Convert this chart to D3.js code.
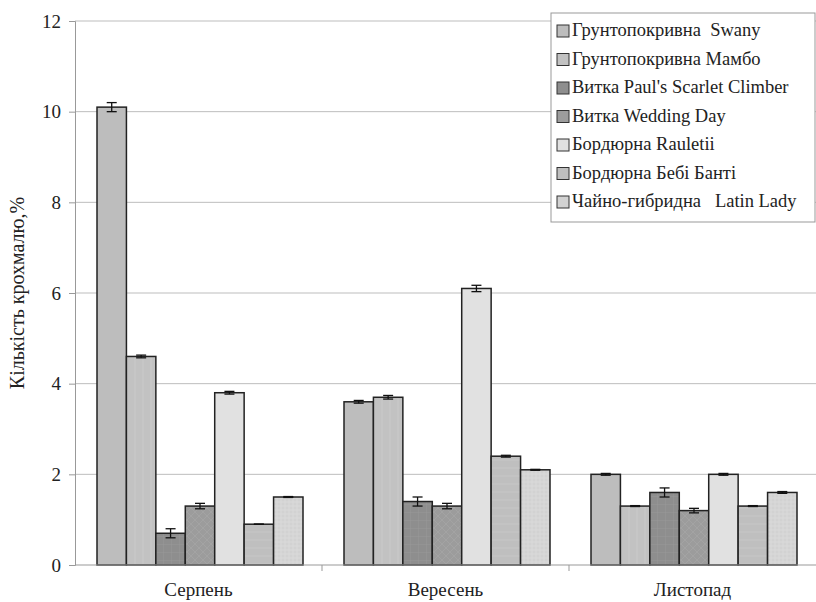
<!DOCTYPE html>
<html lang="uk">
<head>
<meta charset="UTF-8">
<title>Кількість крохмалю</title>
<script src="https://d3js.org/d3.v7.min.js"></script>
<style>
  body { margin: 0; background: #fff; }
  svg text { font-family: "Liberation Serif", "Times New Roman", "DejaVu Serif", serif; }
</style>
</head>
<body>
<div id="chart"></div>
<script>
// категорії (місяці)
const months = ["Серпень", "Вересень", "Листопад"];
// сорти троянд
const series = [
  "Грунтопокривна  Swany",
  "Грунтопокривна Мамбо",
  "Витка Paul's Scarlet Climber",
  "Витка Wedding Day",
  "Бордюрна Rauletii",
  "Бордюрна Бебі Банті",
  "Чайно-гибридна   Latin Lady"
];
// значення по місяцях для кожного сорту
const values = [
  [10.1, 3.6, 2.0],
  [4.6, 3.7, 1.3],
  [0.7, 1.4, 1.6],
  [1.3, 1.3, 1.2],
  [3.8, 6.1, 2.0],
  [0.9, 2.4, 1.3],
  [1.5, 2.1, 1.6]
];
// похибки
const errors = [
  [0.1, 0.03, 0.02],
  [0.03, 0.04, 0.01],
  [0.1, 0.1, 0.1],
  [0.06, 0.06, 0.05],
  [0.03, 0.07, 0.02],
  [0, 0.02, 0.01],
  [0.01, 0.01, 0.02]
];
const yTicks = [0, 2, 4, 6, 8, 10, 12];

const fills = ["#bdbdbd", "#c2c2c2", "#8e8e8e", "#9c9c9c", "#e1e1e1", "#bfbfbf", "#d2d2d2"];

const W = 816, H = 602;
const m = { left: 75, right: 0, top: 21, bottom: 37 };

const svg = d3.select("#chart").append("svg")
  .attr("width", W).attr("height", H);

// візерунки заливки
const defs = svg.append("defs");
function pat(id, base, draw) {
  const p = defs.append("pattern").attr("id", id)
    .attr("patternUnits", "userSpaceOnUse").attr("width", 8).attr("height", 8);
  p.append("rect").attr("width", 8).attr("height", 8).attr("fill", base);
  draw(p);
}
pat("p1", fills[1], p => p.append("path").attr("d", "M4,0V8").attr("stroke", "#cacaca").attr("stroke-width", 1));
pat("p2", fills[2], p => p.append("path").attr("d", "M0,0H8M0,0V8").attr("stroke", "#999").attr("stroke-width", 1));
pat("p3", fills[3], p => p.append("path").attr("d", "M0,0L8,8M8,0L0,8").attr("stroke", "#a4a4a4").attr("stroke-width", 0.8));
pat("p5", fills[5], p => p.append("path").attr("d", "M0,4H8").attr("stroke", "#c8c8c8").attr("stroke-width", 1));
pat("p6", fills[6], p => p.append("path").attr("d", "M0,2H8M0,6H8M2,0V8M6,0V8").attr("stroke", "#dadada").attr("stroke-width", 1));
const fillOf = i => ({1: "url(#p1)", 2: "url(#p2)", 3: "url(#p3)", 5: "url(#p5)", 6: "url(#p6)"}[i] || fills[i]);

const x0 = d3.scaleBand().domain(months).range([m.left, W - m.right]).paddingInner(0).paddingOuter(0);
const x1 = d3.scaleBand().domain(d3.range(series.length)).range([22, x0.bandwidth() - 19]);
const y = d3.scaleLinear().domain([0, 12]).range([H - m.bottom, m.top]);

// сітка
svg.append("g").selectAll("line").data(yTicks.filter(t => t > 0)).join("line")
  .attr("x1", m.left).attr("x2", W)
  .attr("y1", d => y(d)).attr("y2", d => y(d))
  .attr("stroke", "#bdbdbd").attr("stroke-width", 1);

// вісь Y
const yAxis = svg.append("g").attr("transform", `translate(${m.left},0)`)
  .call(d3.axisLeft(y).tickValues(yTicks).tickSize(6).tickPadding(8));
yAxis.attr("font-family", null);
yAxis.select(".domain").attr("stroke", "#999");
yAxis.selectAll(".tick line").attr("stroke", "#999");
yAxis.selectAll("text").attr("font-size", 19).attr("fill", "#222");

// стовпці
const groups = svg.append("g").selectAll("g").data(months).join("g")
  .attr("transform", d => `translate(${x0(d)},0)`);
groups.each(function(mo, j) {
  const g = d3.select(this);
  series.forEach((s, i) => {
    const v = values[i][j], e = errors[i][j];
    const bx = x1(i), bw = x1.bandwidth();
    g.append("rect")
      .attr("x", bx).attr("y", y(v))
      .attr("width", bw).attr("height", y(0) - y(v))
      .attr("fill", fillOf(i)).attr("stroke", "#222").attr("stroke-width", 1.5);
    const cx = bx + bw / 2;
    const eg = g.append("g").attr("stroke", "#111").attr("stroke-width", 1.3);
    eg.append("line").attr("x1", cx).attr("x2", cx).attr("y1", y(v + e)).attr("y2", y(v - e));
    eg.append("line").attr("x1", cx - 5).attr("x2", cx + 5).attr("y1", y(v + e)).attr("y2", y(v + e));
    eg.append("line").attr("x1", cx - 5).attr("x2", cx + 5).attr("y1", y(v - e)).attr("y2", y(v - e));
  });
});

// вісь X
svg.append("line").attr("x1", m.left).attr("x2", W).attr("y1", y(0)).attr("y2", y(0))
  .attr("stroke", "#999");
svg.append("g").selectAll("line").data(months.slice(1)).join("line")
  .attr("x1", d => x0(d)).attr("x2", d => x0(d))
  .attr("y1", y(0)).attr("y2", y(0) + 6).attr("stroke", "#999");
svg.append("g").selectAll("text").data(months).join("text")
  .attr("x", d => x0(d) + x0.bandwidth() / 2).attr("y", H - 6)
  .attr("text-anchor", "middle").attr("font-size", 19).attr("fill", "#222")
  .text(d => d);

// назва осі Y
svg.append("text")
  .attr("transform", `translate(24,${(y(0) + y(12)) / 2}) rotate(-90)`)
  .attr("text-anchor", "middle").attr("font-size", 20).attr("fill", "#222")
  .text("Кількість крохмалю,%");

// легенда
const lg = svg.append("g").attr("transform", "translate(551,13)");
lg.append("rect").attr("width", 264).attr("height", 209)
  .attr("fill", "#fff").attr("stroke", "#999");
series.forEach((s, i) => {
  const row = lg.append("g").attr("transform", `translate(6,${23 + i * 28.5})`);
  row.append("rect").attr("x", 0).attr("y", -11).attr("width", 12).attr("height", 12)
    .attr("fill", fills[i]).attr("stroke", "#333").attr("stroke-width", 1);
  row.append("text").attr("x", 15).attr("y", 0).attr("font-size", 18.5).attr("fill", "#222")
    .style("white-space", "pre").text(s);
});
</script>
</body>
</html>
